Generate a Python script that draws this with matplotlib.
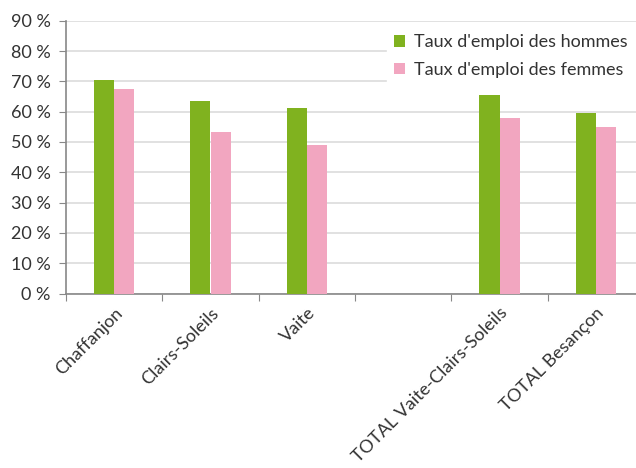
import numpy as np
import matplotlib
matplotlib.use('Agg')
import matplotlib.pyplot as plt

plt.rcParams['font.family'] = ['Lato', 'DejaVu Sans']

categories = ['Chaffanjon', 'Clairs-Soleils', 'Vaite', '',
              'TOTAL Vaite-Clairs-Soleils', 'TOTAL Besançon']
hommes = [70.6, 63.4, 61.2, np.nan, 65.5, 59.5]
femmes = [67.6, 53.2, 48.9, np.nan, 57.9, 54.9]
yticks = np.arange(0, 91, 10)

green = '#80b21f'
pink = '#f2a6c0'
txt = '#333333'
fs = 13

fig = plt.figure(figsize=(6.36, 4.68), dpi=100)
ax = fig.add_axes([66/636, 174.4/468, 578/636, (293.6-20.7)/468])

x = np.arange(len(categories))
w = 0.21
ax.bar(x - w/2, hommes, w, color=green, label="Taux d'emploi des hommes", zorder=3)
ax.bar(x + w/2, femmes, w, color=pink, label="Taux d'emploi des femmes", zorder=3)

ax.set_xlim(-0.5, len(categories) - 0.5)
ax.set_ylim(0, 90)
ax.set_yticks(yticks)
ax.set_yticklabels([str(v) + ' %' for v in yticks], fontsize=fs, color=txt)
ax.yaxis.grid(True, color='#dcdcdc', linewidth=1.2, zorder=0)
ax.set_axisbelow(True)

# category boundaries get tick marks, names sit at the centers
ax.set_xticks(np.arange(len(categories) + 1) - 0.5)
ax.set_xticklabels([])
ax.set_xticks(x, minor=True)
ax.set_xticklabels(categories, minor=True, rotation=45, ha='right',
                   rotation_mode='anchor', fontsize=fs, color=txt)
ax.tick_params(axis='x', which='minor', length=0, pad=8)
ax.tick_params(axis='x', which='major', length=5, color='#888888', direction='out')
ax.tick_params(axis='y', length=5, color='#888888', pad=6)

for s in ['top', 'right']:
    ax.spines[s].set_visible(False)
for s in ['left', 'bottom']:
    ax.spines[s].set_color('#888888')
    ax.spines[s].set_linewidth(1.2)

leg = ax.legend(loc='upper right', bbox_to_anchor=(1.0, 1.01), frameon=True,
                fancybox=False, edgecolor='white', facecolor='white', framealpha=1,
                fontsize=fs, handlelength=0.6, handleheight=0.6,
                handletextpad=0.5, labelspacing=0.65, borderpad=0.4)
for t in leg.get_texts():
    t.set_color(txt)

fig.savefig('out.png', dpi=100)
